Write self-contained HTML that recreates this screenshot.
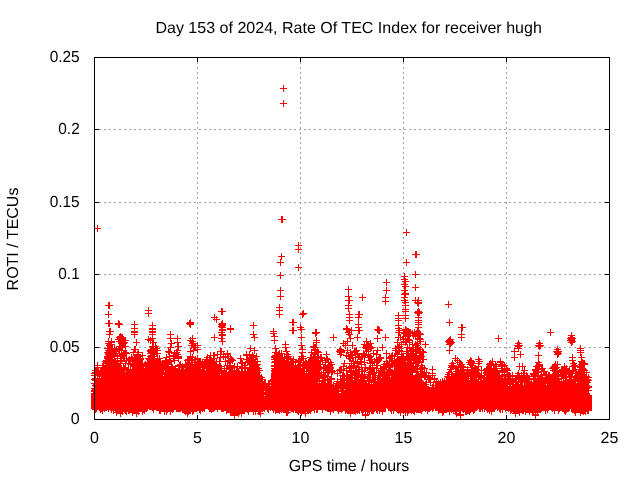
<!DOCTYPE html><html><head><meta charset="utf-8"><title>ROTI</title><style>html,body{margin:0;padding:0;background:#fff}body{width:640px;height:480px;overflow:hidden}svg{display:block}text{font-family:"Liberation Sans",sans-serif;font-size:16px;fill:#000}</style></head><body>
<svg width="640" height="480" viewBox="0 0 640 480" shape-rendering="crispEdges">
<rect width="640" height="480" fill="#fff"/>
<g stroke="#a0a0a0" stroke-width="1" stroke-dasharray="2 3"><line x1="197.5" y1="57" x2="197.5" y2="419"/><line x1="300.5" y1="57" x2="300.5" y2="419"/><line x1="403.5" y1="57" x2="403.5" y2="419"/><line x1="506.5" y1="57" x2="506.5" y2="419"/><line x1="94" y1="347.5" x2="609" y2="347.5"/><line x1="94" y1="274.5" x2="609" y2="274.5"/><line x1="94" y1="202.5" x2="609" y2="202.5"/><line x1="94" y1="129.5" x2="609" y2="129.5"/></g>
<path d="M94.5 420v-5M94.5 57v5M94 419.5h5M610 419.5h-5M197.5 420v-5M197.5 57v5M94 347.5h5M610 347.5h-5M300.5 420v-5M300.5 57v5M94 274.5h5M610 274.5h-5M403.5 420v-5M403.5 57v5M94 202.5h5M610 202.5h-5M506.5 420v-5M506.5 57v5M94 129.5h5M610 129.5h-5M609.5 420v-5M609.5 57v5M94 57.5h5M610 57.5h-5" stroke="#000" stroke-width="1" fill="none"/>
<path transform="translate(0,0.5)" d="M283 85h1M283 86h1M283 87h1M280 88h7M283 89h1M283 90h1M283 91h1M283 100h1M283 101h1M283 102h1M280 103h7M283 104h1M283 105h1M283 106h1M281 216h2M281 217h2M281 218h2M278 219h8M281 220h2M281 221h2M281 222h2M97 225h1M97 226h1M97 227h1M94 228h7M97 229h1M406 229h1M97 230h1M406 230h1M97 231h1M406 231h1M403 232h7M406 233h1M406 234h1M406 235h1M298 242h1M298 243h1M298 244h1M295 245h7M298 246h1M298 247h1M298 248h1M295 249h7M298 250h1M298 251h1M415 251h2M298 252h1M415 252h2M281 253h1M415 253h2M281 254h1M412 254h8M281 255h1M415 255h2M278 256h7M415 256h2M281 257h1M415 257h2M281 258h1M280 259h2M406 259h1M280 260h1M406 260h1M280 261h1M406 261h1M277 262h7M403 262h7M280 263h1M406 263h1M280 264h1M298 264h1M406 264h1M280 265h1M298 265h1M406 265h1M298 266h1M295 267h7M298 268h1M298 269h1M298 270h1M415 271h1M280 272h1M415 272h1M280 273h1M404 273h1M415 273h1M280 274h1M404 274h1M412 274h7M277 275h7M404 275h1M415 275h1M280 276h1M401 276h7M415 276h1M280 277h1M404 277h1M415 277h1M280 278h1M404 278h2M386 279h1M401 279h7M386 280h1M404 280h2M386 281h1M402 281h7M383 282h7M404 282h2M386 283h1M404 283h2M386 284h1M401 284h7M415 284h1M386 285h1M404 285h2M415 285h1M348 286h1M402 286h7M415 286h1M280 287h1M348 287h1M386 287h1M404 287h2M412 287h7M280 288h1M348 288h1M386 288h1M404 288h2M415 288h1M280 289h1M345 289h7M386 289h1M404 289h2M415 289h1M277 290h7M348 290h1M383 290h7M401 290h7M415 290h1M280 291h1M348 291h1M386 291h1M404 291h2M280 292h1M348 292h1M386 292h1M404 292h2M280 293h1M348 293h1M386 293h1M402 293h7M280 294h1M348 294h1M362 294h1M385 294h1M401 294h8M280 295h1M348 295h1M362 295h1M385 295h1M404 295h2M277 296h7M345 296h7M362 296h1M385 296h1M404 296h2M280 297h1M348 297h2M359 297h7M382 297h7M401 297h7M415 297h1M418 297h1M280 298h1M348 298h2M362 298h1M385 298h1M404 298h1M415 298h1M418 298h1M280 299h1M348 299h2M362 299h1M385 299h1M404 299h2M415 299h1M417 299h2M345 300h8M362 300h1M385 300h1M401 300h7M412 300h10M348 301h2M382 301h7M404 301h2M415 301h1M417 301h2M448 301h1M108 302h2M348 302h2M385 302h1M402 302h7M414 302h8M448 302h1M108 303h2M348 303h2M385 303h1M404 303h2M415 303h7M448 303h1M108 304h2M279 304h1M348 304h1M385 304h1M405 304h1M417 304h2M445 304h7M105 305h8M279 305h1M345 305h7M402 305h7M417 305h2M448 305h1M108 306h2M279 306h1M348 306h1M405 306h1M418 306h1M448 306h1M108 307h2M148 307h1M276 307h7M348 307h1M405 307h1M448 307h1M108 308h2M148 308h1M221 308h2M279 308h1M345 308h7M405 308h1M418 308h1M148 309h1M221 309h2M279 309h1M348 309h1M402 309h7M417 309h3M145 310h7M221 310h2M276 310h7M303 310h1M348 310h1M405 310h1M417 310h3M108 311h1M148 311h1M218 311h8M279 311h1M302 311h2M348 311h2M358 311h2M402 311h7M415 311h7M108 312h1M148 312h1M221 312h2M279 312h1M302 312h2M349 312h1M358 312h2M398 312h1M405 312h1M414 312h9M108 313h1M145 313h7M221 313h2M279 313h1M300 313h7M349 313h1M358 313h2M398 313h1M405 313h1M415 313h7M105 314h7M148 314h1M214 314h1M221 314h2M276 314h7M299 314h7M346 314h7M355 314h8M398 314h1M405 314h1M417 314h3M108 315h1M148 315h1M214 315h1M279 315h1M302 315h2M349 315h1M358 315h2M395 315h14M417 315h3M108 316h1M148 316h1M214 316h1M216 316h1M279 316h1M302 316h2M349 316h1M358 316h2M398 316h1M405 316h1M418 316h1M108 317h1M211 317h7M279 317h1M302 317h1M346 317h7M355 317h7M398 317h1M405 317h1M415 317h7M214 318h1M216 318h1M349 318h1M358 318h1M395 318h14M418 318h1M190 319h1M213 319h7M292 319h2M349 319h1M358 319h1M398 319h1M405 319h1M418 319h1M449 319h1M108 320h2M118 320h1M189 320h2M214 320h1M216 320h1M222 320h1M292 320h2M346 320h7M358 320h1M395 320h7M405 320h1M415 320h7M449 320h1M108 321h2M118 321h2M134 321h1M189 321h2M216 321h1M221 321h2M292 321h2M349 321h1M358 321h1M398 321h1M405 321h1M418 321h1M449 321h1M108 322h2M118 322h2M134 322h1M152 322h1M187 322h7M216 322h1M221 322h2M253 322h1M289 322h8M349 322h1M358 322h1M398 322h1M415 322h7M446 322h7M105 323h8M115 323h7M134 323h1M152 323h1M186 323h8M219 323h7M253 323h1M292 323h2M349 323h1M358 323h1M398 323h1M418 323h1M449 323h1M108 324h2M115 324h8M131 324h7M152 324h1M187 324h7M218 324h8M253 324h1M292 324h2M300 324h1M355 324h7M398 324h1M415 324h7M449 324h1M461 324h2M108 325h2M118 325h2M134 325h1M149 325h7M189 325h2M219 325h7M230 325h1M250 325h7M292 325h2M300 325h1M346 325h1M358 325h1M395 325h7M418 325h1M449 325h1M461 325h2M108 326h2M118 326h2M134 326h1M152 326h1M189 326h2M218 326h7M230 326h1M253 326h1M300 326h2M346 326h2M358 326h1M377 326h2M398 326h1M405 326h1M418 326h1M461 326h2M118 327h2M134 327h1M152 327h1M190 327h1M219 327h7M230 327h1M253 327h1M292 327h2M297 327h7M346 327h2M351 327h1M355 327h7M377 327h3M398 327h2M405 327h2M415 327h7M458 327h8M109 328h2M131 328h7M149 328h7M221 328h2M227 328h7M253 328h1M273 328h1M292 328h2M300 328h2M343 328h7M351 328h1M358 328h2M377 328h3M395 328h7M405 328h4M417 328h2M461 328h2M109 329h2M134 329h1M149 329h7M219 329h7M227 329h7M273 329h1M292 329h2M298 329h7M315 329h2M343 329h9M358 329h2M374 329h8M398 329h2M402 329h9M414 329h1M417 329h2M461 329h2M550 329h1M109 330h2M134 330h1M152 330h1M219 330h7M230 330h1M273 330h1M289 330h8M300 330h2M315 330h2M346 330h17M375 330h8M396 330h15M412 330h1M414 330h1M416 330h4M461 330h2M550 330h1M106 331h8M131 331h7M149 331h7M170 331h1M221 331h2M230 331h1M253 331h1M270 331h7M292 331h2M301 331h1M315 331h2M346 331h4M351 331h1M358 331h2M377 331h3M398 331h2M403 331h10M414 331h7M461 331h1M550 331h1M109 332h2M131 332h7M149 332h7M170 332h1M218 332h7M230 332h1M253 332h1M273 332h1M292 332h2M301 332h1M312 332h8M345 332h7M358 332h2M377 332h3M395 332h26M461 332h1M547 332h7M571 332h1M109 333h2M120 333h1M134 333h1M152 333h1M170 333h1M221 333h2M253 333h1M270 333h7M292 333h2M312 333h7M348 333h2M351 333h1M358 333h2M378 333h2M398 333h2M401 333h22M461 333h1M550 333h1M571 333h1M106 334h7M119 334h4M131 334h7M149 334h7M167 334h7M214 334h1M219 334h7M250 334h7M273 334h2M301 334h1M315 334h2M333 334h1M346 334h7M357 334h1M385 334h1M398 334h3M403 334h8M412 334h12M458 334h7M550 334h1M571 334h1M109 335h1M119 335h4M134 335h1M152 335h1M170 335h1M177 335h1M192 335h1M214 335h1M219 335h7M253 335h2M273 335h2M301 335h1M315 335h2M333 335h1M348 335h3M357 335h1M377 335h1M385 335h1M398 335h3M403 335h18M461 335h1M498 335h1M550 335h1M568 335h7M109 336h1M117 336h7M134 336h1M148 336h1M152 336h1M170 336h1M177 336h1M192 336h1M214 336h1M221 336h2M253 336h2M271 336h7M301 336h1M315 336h1M333 336h1M349 336h2M357 336h1M377 336h1M385 336h1M398 336h1M400 336h1M402 336h9M412 336h9M450 336h1M461 336h1M498 336h1M570 336h3M109 337h1M116 337h10M134 337h1M148 337h1M150 337h1M152 337h1M170 337h1M177 337h1M190 337h1M192 337h1M211 337h7M221 337h2M251 337h7M274 337h1M298 337h7M316 337h1M330 337h7M349 337h2M354 337h7M377 337h1M382 337h7M395 337h9M405 337h1M407 337h3M413 337h1M415 337h1M417 337h4M449 337h2M458 337h7M498 337h1M568 337h7M108 338h1M111 338h1M117 338h9M148 338h8M167 338h14M189 338h7M214 338h1M218 338h7M254 338h1M274 338h1M301 338h1M316 338h1M333 338h1M347 338h7M357 338h1M366 338h1M374 338h7M385 338h1M398 338h1M400 338h1M402 338h8M413 338h1M415 338h8M448 338h3M461 338h1M495 338h7M567 338h9M108 339h1M111 339h1M115 339h11M136 339h1M145 339h9M170 339h1M177 339h1M190 339h1M192 339h1M214 339h1M221 339h2M254 339h1M274 339h1M301 339h1M316 339h1M333 339h1M347 339h1M350 339h1M357 339h1M366 339h1M377 339h1M385 339h1M397 339h2M400 339h12M415 339h9M447 339h7M461 339h1M498 339h1M568 339h7M108 340h1M111 340h1M118 340h11M136 340h1M147 340h7M170 340h2M177 340h1M187 340h7M214 340h1M221 340h2M254 340h1M271 340h7M301 340h1M313 340h7M333 340h1M343 340h1M347 340h1M350 340h1M357 340h1M366 340h1M370 340h1M377 340h1M385 340h1M397 340h2M400 340h1M403 340h1M405 340h8M417 340h1M419 340h2M446 340h7M461 340h1M498 340h1M518 340h1M539 340h1M567 340h8M105 341h10M116 341h10M136 341h1M148 341h1M150 341h1M152 341h2M170 341h2M177 341h1M189 341h7M219 341h7M274 341h1M285 341h1M316 341h1M343 341h8M363 341h8M377 341h1M397 341h1M401 341h9M412 341h1M415 341h1M417 341h7M425 341h1M445 341h9M498 341h1M518 341h1M539 341h1M569 341h7M108 342h7M118 342h10M133 342h7M148 342h1M150 342h7M171 342h1M174 342h7M190 342h4M197 342h1M222 342h1M274 342h1M285 342h1M301 342h1M313 342h7M343 342h1M345 342h1M347 342h1M352 342h1M364 342h1M366 342h3M370 342h1M394 342h19M415 342h3M419 342h2M425 342h1M446 342h9M517 342h3M538 342h3M568 342h7M105 343h7M118 343h9M136 343h1M150 343h1M152 343h2M155 343h1M168 343h7M177 343h2M189 343h9M222 343h1M274 343h1M285 343h1M301 343h1M313 343h1M316 343h1M340 343h8M352 343h1M364 343h1M366 343h8M397 343h1M399 343h1M401 343h1M405 343h2M409 343h1M412 343h1M414 343h7M425 343h1M447 343h7M515 343h7M536 343h7M570 343h3M107 344h8M119 344h7M136 344h1M152 344h2M155 344h1M170 344h2M177 344h2M191 344h5M197 344h1M222 344h1M282 344h7M301 344h1M313 344h4M343 344h1M345 344h1M347 344h1M352 344h1M361 344h11M382 344h1M397 344h11M409 344h10M420 344h1M422 344h7M446 344h7M517 344h3M538 344h3M571 344h2M106 345h7M114 345h1M119 345h7M136 345h1M152 345h2M155 345h2M170 345h2M177 345h2M188 345h13M250 345h1M275 345h1M285 345h1M298 345h7M313 345h4M342 345h14M363 345h9M382 345h1M395 345h1M397 345h3M401 345h1M405 345h1M407 345h1M409 345h1M412 345h8M425 345h1M449 345h3M514 345h9M535 345h9M571 345h1M580 345h1M107 346h6M114 346h1M116 346h13M134 346h2M149 346h10M170 346h2M175 346h7M191 346h5M197 346h1M250 346h1M275 346h1M285 346h1M301 346h2M310 346h7M340 346h1M343 346h1M345 346h1M352 346h1M363 346h10M382 346h1M395 346h8M407 346h1M409 346h1M412 346h2M415 346h4M420 346h1M425 346h1M449 346h2M515 346h7M536 346h7M557 346h1M580 346h1M107 347h6M114 347h1M116 347h1M118 347h8M134 347h2M150 347h4M155 347h3M167 347h7M177 347h2M191 347h8M250 347h1M254 347h1M275 347h1M282 347h7M301 347h2M311 347h8M340 347h1M345 347h1M347 347h1M352 347h1M356 347h1M362 347h13M377 347h1M379 347h7M395 347h7M404 347h18M425 347h1M449 347h1M517 347h3M538 347h3M557 347h1M580 347h1M104 348h19M125 348h1M134 348h2M150 348h10M168 348h1M170 348h1M177 348h2M190 348h2M193 348h3M197 348h1M220 348h2M247 348h8M272 348h7M285 348h2M301 348h2M313 348h3M317 348h1M339 348h3M345 348h1M347 348h1M352 348h1M354 348h3M363 348h11M377 348h1M382 348h1M392 348h11M406 348h8M415 348h6M422 348h1M449 348h1M514 348h8M538 348h3M556 348h3M577 348h7M107 349h16M125 349h1M131 349h8M148 349h10M168 349h3M176 349h3M190 349h1M193 349h8M220 349h2M250 349h1M254 349h1M275 349h2M285 349h2M299 349h7M311 349h8M337 349h7M347 349h1M350 349h1M354 349h3M365 349h7M377 349h1M382 349h1M395 349h2M398 349h2M401 349h1M406 349h2M409 349h15M449 349h1M514 349h1M518 349h1M539 349h1M554 349h7M580 349h1M105 350h22M133 350h3M138 350h1M147 350h14M168 350h3M174 350h7M190 350h8M220 350h2M227 350h1M250 350h8M275 350h2M279 350h1M281 350h1M285 350h2M302 350h1M311 350h8M337 350h14M353 350h7M363 350h1M365 350h4M370 350h2M373 350h8M382 350h1M386 350h1M392 350h11M406 350h15M422 350h2M446 350h7M514 350h1M518 350h1M556 350h3M577 350h7M106 351h14M121 351h1M123 351h4M133 351h3M137 351h2M147 351h11M165 351h7M174 351h1M176 351h2M187 351h7M197 351h1M217 351h8M227 351h1M246 351h1M249 351h2M254 351h1M275 351h2M278 351h2M281 351h1M283 351h7M302 351h1M311 351h1M314 351h7M326 351h1M336 351h9M347 351h1M350 351h9M363 351h8M373 351h1M376 351h2M386 351h1M395 351h31M449 351h1M511 351h8M520 351h1M553 351h9M580 351h1M104 352h13M118 352h2M121 352h8M130 352h13M148 352h10M166 352h14M190 352h1M193 352h1M197 352h1M210 352h1M213 352h2M217 352h1M220 352h2M223 352h1M227 352h1M246 352h1M249 352h1M252 352h1M254 352h1M272 352h8M281 352h1M286 352h2M299 352h7M308 352h14M326 352h1M337 352h8M346 352h12M363 352h2M366 352h1M368 352h1M373 352h1M376 352h2M386 352h1M392 352h1M395 352h5M401 352h1M406 352h3M410 352h4M415 352h12M449 352h1M514 352h1M520 352h1M538 352h1M554 352h7M577 352h7M105 353h25M133 353h1M137 353h2M142 353h1M147 353h14M168 353h2M171 353h8M190 353h1M193 353h1M210 353h1M213 353h2M217 353h1M220 353h2M223 353h8M246 353h1M249 353h1M252 353h1M254 353h1M256 353h1M274 353h11M286 353h3M301 353h2M311 353h8M326 353h1M339 353h3M346 353h3M350 353h3M354 353h13M368 353h1M370 353h8M383 353h7M391 353h2M394 353h6M401 353h23M449 353h1M514 353h1M520 353h1M538 353h1M555 353h7M580 353h1M105 354h13M119 354h8M131 354h1M133 354h8M142 354h1M150 354h8M166 354h1M168 354h2M173 354h8M190 354h1M192 354h1M207 354h1M210 354h1M213 354h18M243 354h11M256 354h1M274 354h9M284 354h7M301 354h2M310 354h9M320 354h2M323 354h7M337 354h7M346 354h1M348 354h23M373 354h8M386 354h1M389 354h1M391 354h2M394 354h10M406 354h11M419 354h5M514 354h1M517 354h7M538 354h1M554 354h7M572 354h1M580 354h2M106 355h21M131 355h1M133 355h13M148 355h7M156 355h2M159 355h1M166 355h1M169 355h10M190 355h1M192 355h1M197 355h1M207 355h11M220 355h1M223 355h1M225 355h1M227 355h2M230 355h1M240 355h1M243 355h14M272 355h11M284 355h1M286 355h3M301 355h3M310 355h2M313 355h3M317 355h2M320 355h2M326 355h1M340 355h2M343 355h13M357 355h3M361 355h11M373 355h1M376 355h1M379 355h2M386 355h1M389 355h7M397 355h1M401 355h3M406 355h18M455 355h1M514 355h1M520 355h1M535 355h7M557 355h2M572 355h1M580 355h2M104 356h23M129 356h1M131 356h2M134 356h9M147 356h11M159 356h1M166 356h16M187 356h7M195 356h1M197 356h1M206 356h2M209 356h2M213 356h2M217 356h1M220 356h12M240 356h1M246 356h2M249 356h11M271 356h12M284 356h8M293 356h1M298 356h8M310 356h12M326 356h2M340 356h1M345 356h8M355 356h11M367 356h7M376 356h1M378 356h3M386 356h1M388 356h37M455 356h1M478 356h1M514 356h1M520 356h1M538 356h1M557 356h2M572 356h1M581 356h1M104 357h11M117 357h1M120 357h5M126 357h1M128 357h13M142 357h1M148 357h7M157 357h1M159 357h1M163 357h7M173 357h9M187 357h9M197 357h1M204 357h8M213 357h2M217 357h12M230 357h3M240 357h1M246 357h11M271 357h20M293 357h1M299 357h1M301 357h3M307 357h18M326 357h2M340 357h1M346 357h1M348 357h25M376 357h8M386 357h7M394 357h1M397 357h27M455 357h1M457 357h1M470 357h1M478 357h1M511 357h7M520 357h1M538 357h1M557 357h1M569 357h7M578 357h7M104 358h9M114 358h30M145 358h18M165 358h2M169 358h13M187 358h6M194 358h7M206 358h2M209 358h9M219 358h2M223 358h1M225 358h1M227 358h7M237 358h7M246 358h8M255 358h3M273 358h21M298 358h9M309 358h21M346 358h8M355 358h1M358 358h5M364 358h1M368 358h4M374 358h1M376 358h8M386 358h9M396 358h28M452 358h7M470 358h2M478 358h2M492 358h1M500 358h1M514 358h1M538 358h1M572 358h1M581 358h1M105 359h11M117 359h1M120 359h2M123 359h2M126 359h18M146 359h15M165 359h6M173 359h2M178 359h1M185 359h16M202 359h13M216 359h1M219 359h2M223 359h1M225 359h1M228 359h7M240 359h2M243 359h15M271 359h14M286 359h11M298 359h6M305 359h1M308 359h11M320 359h3M324 359h7M348 359h3M352 359h2M355 359h1M357 359h6M364 359h1M368 359h14M386 359h1M389 359h4M394 359h33M455 359h1M457 359h1M459 359h1M469 359h3M475 359h7M492 359h1M500 359h1M514 359h1M538 359h1M572 359h1M581 359h2M103 360h40M147 360h14M162 360h17M184 360h12M197 360h4M202 360h1M204 360h11M216 360h1M219 360h2M225 360h11M240 360h3M246 360h10M257 360h1M274 360h15M290 360h4M295 360h9M305 360h2M308 360h21M330 360h1M344 360h1M349 360h5M355 360h1M357 360h1M360 360h2M364 360h1M366 360h7M374 360h8M386 360h2M389 360h32M422 360h2M452 360h1M454 360h7M467 360h7M478 360h2M490 360h1M492 360h1M500 360h1M514 360h1M538 360h1M569 360h7M581 360h4M102 361h25M128 361h15M145 361h1M147 361h28M178 361h1M180 361h1M185 361h1M187 361h3M191 361h2M194 361h40M240 361h3M245 361h16M272 361h30M303 361h20M325 361h4M330 361h2M344 361h1M349 361h16M369 361h12M383 361h23M407 361h5M413 361h11M452 361h1M455 361h1M457 361h1M459 361h3M468 361h7M476 361h7M489 361h7M497 361h7M538 361h2M555 361h1M557 361h1M572 361h2M578 361h7M97 362h1M103 362h16M120 362h2M125 362h2M128 362h3M132 362h11M144 362h28M174 362h1M179 362h2M185 362h32M219 362h1M225 362h1M227 362h6M238 362h20M271 362h50M322 362h12M344 362h1M351 362h1M353 362h15M369 362h11M384 362h1M386 362h4M391 362h33M451 362h3M456 362h7M466 362h9M478 362h2M489 362h4M495 362h1M497 362h8M535 362h7M555 362h1M557 362h1M572 362h3M579 362h7M97 363h1M102 363h70M174 363h1M179 363h2M182 363h1M185 363h8M194 363h23M219 363h2M225 363h1M227 363h4M232 363h1M234 363h1M237 363h1M239 363h7M247 363h11M274 363h20M295 363h1M298 363h3M302 363h19M322 363h1M325 363h1M328 363h4M341 363h21M364 363h1M367 363h8M376 363h3M383 363h37M421 363h1M449 363h7M457 363h1M459 363h4M468 363h14M487 363h7M495 363h2M500 363h3M504 363h1M519 363h1M522 363h1M536 363h4M554 363h2M557 363h1M564 363h1M570 363h7M579 363h9M97 364h1M102 364h2M105 364h16M123 364h1M125 364h1M127 364h46M177 364h44M225 364h1M227 364h1M229 364h2M234 364h1M237 364h1M241 364h2M244 364h2M247 364h14M274 364h20M295 364h1M297 364h29M327 364h8M343 364h2M349 364h1M351 364h1M353 364h2M357 364h9M370 364h1M372 364h1M374 364h1M376 364h2M381 364h33M415 364h4M421 364h2M451 364h3M457 364h8M467 364h7M478 364h2M486 364h20M519 364h1M522 364h1M536 364h7M552 364h9M564 364h1M572 364h4M578 364h10M94 365h28M123 365h3M128 365h1M130 365h39M171 365h2M175 365h47M224 365h11M237 365h1M241 365h7M249 365h11M271 365h50M323 365h10M343 365h2M346 365h1M349 365h10M361 365h1M364 365h2M369 365h12M383 365h31M415 365h10M448 365h9M458 365h6M469 365h7M478 365h1M487 365h10M498 365h10M519 365h1M522 365h1M535 365h8M552 365h6M564 365h1M566 365h1M571 365h7M579 365h6M97 366h1M102 366h20M123 366h3M128 366h1M130 366h95M226 366h17M244 366h2M249 366h10M271 366h51M323 366h10M340 366h7M348 366h12M361 366h1M365 366h1M369 366h2M372 366h1M376 366h2M380 366h39M420 366h3M424 366h1M432 366h1M449 366h17M467 366h1M470 366h3M474 366h8M486 366h6M493 366h14M516 366h10M533 366h10M551 366h7M561 366h7M569 366h16M95 367h34M130 367h1M132 367h12M145 367h31M178 367h44M224 367h1M226 367h12M239 367h21M274 367h27M302 367h32M339 367h3M343 367h1M346 367h32M380 367h13M394 367h24M419 367h7M432 367h1M448 367h31M481 367h1M486 367h6M493 367h4M501 367h2M504 367h1M506 367h2M519 367h1M522 367h1M524 367h1M535 367h5M541 367h2M550 367h10M561 367h6M569 367h1M572 367h4M577 367h8M95 368h4M100 368h29M130 368h1M132 368h48M181 368h3M185 368h16M202 368h33M236 368h26M271 368h63M339 368h3M343 368h14M358 368h2M361 368h2M364 368h23M388 368h3M394 368h34M432 368h1M450 368h9M460 368h4M467 368h1M471 368h8M481 368h1M484 368h26M519 368h1M522 368h1M524 368h1M535 368h11M549 368h10M561 368h9M572 368h4M579 368h7M95 369h4M100 369h105M206 369h16M224 369h1M226 369h7M234 369h1M236 369h3M241 369h2M244 369h2M247 369h13M272 369h33M306 369h16M323 369h10M337 369h8M346 369h1M349 369h3M353 369h1M355 369h8M364 369h2M367 369h8M376 369h1M378 369h1M380 369h13M394 369h31M426 369h1M429 369h7M447 369h7M455 369h25M481 369h1M483 369h15M501 369h9M519 369h1M522 369h1M524 369h1M532 369h13M552 369h6M559 369h11M572 369h15M92 370h135M229 370h11M241 370h2M244 370h2M247 370h16M271 370h34M306 370h15M323 370h12M336 370h24M361 370h7M369 370h6M376 370h9M386 370h32M420 370h3M424 370h1M426 370h1M432 370h1M449 370h3M455 370h56M518 370h1M521 370h7M532 370h7M541 370h4M550 370h27M578 370h10M94 371h31M126 371h38M165 371h62M228 371h32M271 371h49M321 371h1M323 371h1M325 371h11M337 371h1M339 371h3M343 371h1M346 371h20M368 371h7M376 371h1M378 371h47M426 371h1M432 371h1M448 371h4M453 371h12M466 371h13M481 371h1M484 371h24M518 371h1M523 371h2M533 371h15M552 371h33M586 371h1M92 372h169M272 372h33M306 372h1M308 372h27M337 372h1M339 372h5M346 372h14M361 372h2M364 372h1M366 372h53M420 372h10M432 372h1M446 372h7M455 372h25M481 372h1M483 372h27M512 372h1M517 372h2M521 372h1M523 372h2M526 372h1M533 372h9M543 372h4M548 372h2M553 372h21M575 372h15M91 373h169M271 373h51M323 373h3M327 373h3M331 373h2M334 373h7M342 373h3M346 373h2M350 373h10M361 373h2M364 373h1M368 373h9M378 373h35M416 373h11M428 373h8M447 373h3M451 373h31M483 373h17M502 373h1M504 373h1M507 373h4M512 373h1M515 373h13M530 373h9M541 373h1M543 373h4M548 373h2M552 373h7M560 373h25M586 373h1M94 374h126M221 374h39M261 374h1M271 374h55M327 374h2M331 374h2M337 374h1M342 374h3M346 374h30M378 374h35M415 374h12M428 374h1M432 374h1M445 374h37M484 374h16M501 374h10M512 374h1M517 374h3M521 374h1M523 374h2M526 374h2M530 374h9M540 374h33M575 374h12M588 374h1M91 375h72M164 375h98M271 375h58M331 375h1M337 375h1M339 375h27M367 375h4M372 375h64M447 375h3M451 375h79M531 375h36M568 375h5M574 375h13M588 375h1M94 376h2M97 376h166M271 376h61M337 376h1M340 376h13M354 376h17M372 376h4M377 376h13M391 376h40M432 376h1M434 376h1M444 376h41M486 376h57M545 376h45M94 377h2M97 377h1M99 377h1M101 377h164M271 377h57M329 377h3M340 377h1M342 377h3M346 377h35M382 377h51M434 377h1M445 377h24M470 377h33M504 377h2M507 377h4M512 377h1M515 377h15M533 377h3M537 377h22M561 377h31M92 378h171M271 378h55M327 378h8M337 378h1M340 378h19M360 378h11M372 378h4M377 378h45M424 378h2M427 378h11M442 378h1M444 378h1M446 378h31M478 378h89M569 378h3M573 378h16M91 379h175M270 379h50M322 379h13M337 379h16M354 379h11M367 379h55M424 379h14M440 379h1M442 379h1M444 379h1M446 379h23M470 379h12M483 379h79M563 379h1M565 379h26M92 380h171M264 380h2M268 380h64M337 380h1M340 380h36M377 380h46M426 380h1M428 380h3M434 380h1M436 380h1M438 380h1M440 380h1M442 380h37M480 380h37M518 380h12M531 380h1M533 380h27M561 380h1M563 380h29M94 381h172M268 381h58M327 381h5M334 381h11M346 381h78M425 381h2M428 381h3M433 381h99M533 381h57M94 382h172M268 382h2M271 382h47M319 382h1M321 382h5M327 382h5M333 382h1M336 382h31M368 382h208M577 382h14M91 383h241M333 383h37M371 383h1M373 383h54M430 383h1M433 383h1M435 383h79M515 383h4M520 383h3M524 383h65M93 384h241M335 384h94M430 384h1M432 384h2M435 384h88M524 384h22M547 384h42M92 385h178M271 385h156M430 385h78M509 385h2M512 385h78M93 386h336M432 386h2M435 386h157M94 387h498M91 388h499M92 389h247M340 389h4M345 389h244M91 390h501M91 391h173M265 391h324M93 392h246M341 392h248M91 393h499M91 394h499M91 395h173M265 395h327M91 396h501M91 397h501M91 398h501M91 399h501M91 400h501M91 401h501M91 402h501M91 403h501M91 404h501M91 405h501M91 406h501M91 407h501M91 408h295M387 408h205M92 409h56M149 409h56M208 409h178M388 409h46M435 409h43M479 409h4M484 409h12M497 409h73M571 409h21M94 410h3M99 410h8M108 410h1M110 410h38M152 410h2M156 410h18M176 410h29M209 410h6M217 410h1M221 410h44M267 410h2M270 410h1M272 410h43M316 410h2M322 410h1M325 410h61M388 410h43M432 410h2M435 410h42M479 410h2M482 410h1M484 410h1M486 410h9M497 410h1M499 410h2M502 410h1M505 410h44M551 410h19M571 410h21M94 411h3M100 411h3M104 411h1M108 411h1M111 411h1M113 411h1M115 411h32M153 411h1M159 411h15M176 411h5M182 411h15M199 411h2M202 411h1M204 411h1M209 411h5M217 411h1M221 411h3M226 411h37M264 411h1M267 411h2M273 411h1M275 411h14M291 411h3M295 411h17M314 411h1M316 411h2M322 411h1M327 411h7M337 411h6M345 411h15M361 411h14M376 411h2M379 411h7M390 411h2M393 411h1M396 411h27M425 411h1M427 411h3M432 411h1M438 411h23M462 411h13M479 411h2M482 411h1M484 411h1M487 411h8M499 411h2M502 411h1M505 411h1M508 411h1M510 411h32M545 411h1M547 411h1M552 411h1M554 411h1M558 411h2M562 411h7M571 411h18M95 412h1M100 412h1M102 412h1M111 412h1M113 412h10M124 412h3M128 412h11M142 412h3M153 412h1M159 412h2M164 412h1M166 412h2M170 412h1M172 412h1M182 412h9M192 412h2M199 412h2M211 412h1M226 412h19M247 412h2M253 412h1M255 412h1M258 412h3M268 412h1M273 412h1M275 412h5M281 412h1M283 412h8M293 412h1M295 412h11M307 412h4M314 412h1M316 412h2M322 412h1M330 412h1M333 412h1M338 412h1M341 412h1M345 412h15M361 412h3M365 412h1M367 412h3M371 412h3M376 412h2M379 412h1M382 412h1M391 412h1M393 412h1M397 412h18M416 412h6M427 412h1M438 412h9M449 412h1M451 412h1M453 412h1M455 412h2M459 412h2M463 412h1M465 412h6M473 412h2M487 412h1M489 412h1M491 412h1M500 412h1M502 412h1M510 412h2M513 412h11M525 412h16M545 412h1M547 412h1M554 412h1M558 412h1M564 412h3M572 412h14M587 412h2M102 413h1M113 413h1M116 413h8M125 413h2M128 413h2M132 413h8M142 413h1M144 413h1M159 413h2M164 413h1M166 413h1M170 413h1M184 413h7M192 413h2M200 413h1M226 413h1M230 413h15M248 413h1M253 413h1M255 413h1M257 413h7M275 413h1M279 413h1M286 413h3M297 413h2M300 413h9M310 413h1M330 413h1M338 413h1M345 413h1M347 413h9M357 413h1M359 413h1M362 413h1M365 413h1M367 413h1M369 413h1M371 413h3M377 413h1M379 413h1M382 413h1M391 413h1M393 413h1M398 413h1M400 413h1M403 413h1M405 413h1M407 413h2M411 413h1M413 413h2M421 413h1M427 413h1M438 413h1M442 413h2M449 413h1M453 413h8M465 413h5M473 413h1M489 413h1M491 413h1M510 413h1M512 413h8M522 413h2M525 413h1M529 413h1M532 413h2M535 413h1M537 413h1M545 413h1M554 413h1M558 413h1M564 413h2M574 413h2M580 413h6M587 413h2M116 414h1M120 414h1M122 414h1M126 414h1M132 414h1M136 414h1M138 414h1M142 414h1M164 414h1M166 414h1M170 414h1M185 414h1M187 414h2M192 414h1M230 414h10M241 414h1M248 414h1M253 414h1M255 414h1M258 414h3M286 414h2M298 414h1M301 414h1M305 414h1M330 414h1M350 414h1M355 414h1M362 414h8M382 414h1M400 414h1M405 414h1M407 414h1M414 414h1M442 414h2M449 414h1M455 414h9M465 414h2M469 414h1M491 414h1M515 414h1M519 414h1M525 414h1M529 414h1M532 414h7M565 414h1M575 414h1M580 414h1M583 414h1M585 414h1M116 415h1M120 415h1M132 415h1M136 415h1M187 415h1M230 415h9M241 415h1M260 415h1M286 415h2M301 415h1M305 415h1M350 415h1M362 415h7M400 415h1M405 415h1M407 415h1M442 415h1M456 415h8M515 415h1M519 415h1M532 415h7M575 415h1M580 415h1M120 416h1M136 416h1M187 416h1M234 416h1M238 416h1M241 416h1M260 416h1M305 416h1M350 416h1M365 416h1M456 416h1M460 416h1M515 416h1M535 416h1M234 417h1M365 417h1M460 417h1M535 417h1M234 418h1M365 418h1M460 418h1M535 418h1" stroke="#f00" stroke-width="1" fill="none"/>
<rect x="94.5" y="57.5" width="515" height="362" fill="none" stroke="#000" stroke-width="1"/>
<g shape-rendering="auto" text-rendering="geometricPrecision">
<text x="348.6" y="33" text-anchor="middle" textLength="386.4" lengthAdjust="spacing">Day 153 of 2024, Rate Of TEC Index for receiver hugh</text>
<text x="349.1" y="471" text-anchor="middle" textLength="120.5" lengthAdjust="spacing">GPS time / hours</text>
<text transform="translate(18,239) rotate(-90)" text-anchor="middle">ROTI / TECUs</text>
<text x="79.7" y="424" text-anchor="end">0</text>
<text x="79.7" y="352" text-anchor="end" textLength="30.0" lengthAdjust="spacingAndGlyphs">0.05</text>
<text x="79.7" y="279" text-anchor="end" textLength="21.4" lengthAdjust="spacingAndGlyphs">0.1</text>
<text x="79.7" y="207" text-anchor="end" textLength="30.0" lengthAdjust="spacingAndGlyphs">0.15</text>
<text x="79.7" y="134" text-anchor="end" textLength="21.4" lengthAdjust="spacingAndGlyphs">0.2</text>
<text x="79.7" y="62" text-anchor="end" textLength="30.0" lengthAdjust="spacingAndGlyphs">0.25</text>
<text x="94.5" y="443.3" text-anchor="middle">0</text>
<text x="197.5" y="443.3" text-anchor="middle">5</text>
<text x="300.5" y="443.3" text-anchor="middle">10</text>
<text x="403.5" y="443.3" text-anchor="middle">15</text>
<text x="506.5" y="443.3" text-anchor="middle">20</text>
<text x="609.5" y="443.3" text-anchor="middle">25</text>
</g>
</svg></body></html>
